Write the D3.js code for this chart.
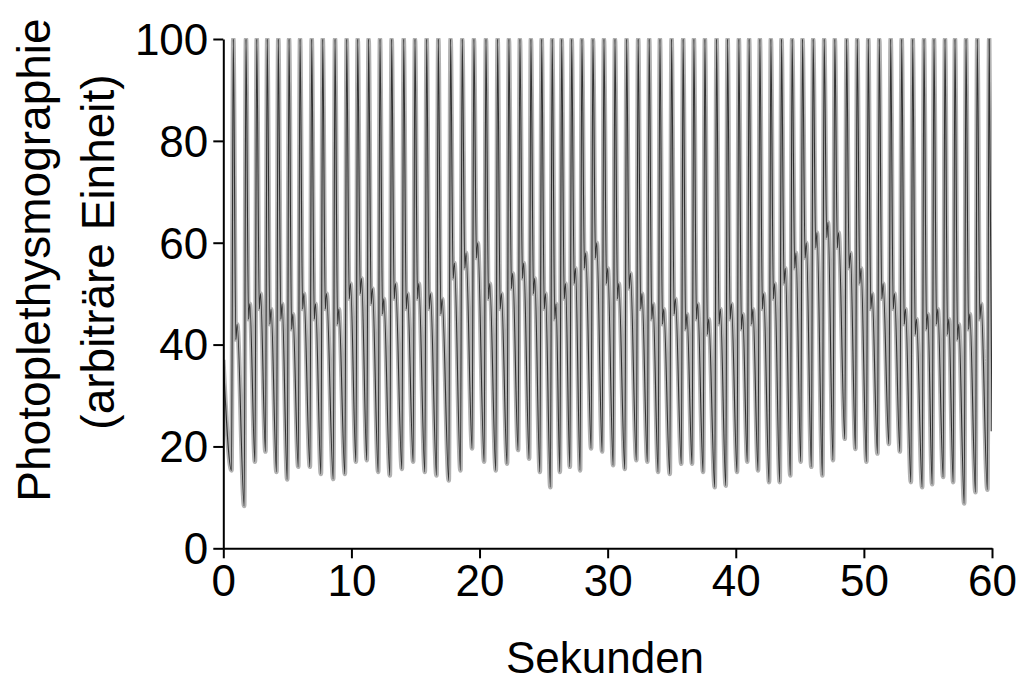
<!DOCTYPE html>
<html>
<head>
<meta charset="utf-8">
<script src="https://cdn.jsdelivr.net/npm/d3@7"></script>
<style>
  html, body { margin: 0; padding: 0; background: #fff; }
  svg { display: block; }
  text { font-family: "Liberation Sans", Arial, sans-serif; fill: #000; }
</style>
</head>
<body>
<svg id="chart" width="1026" height="686"></svg>
<script>
// Pulse peak times (s) of each heartbeat
const peakTimes = [
  0.78, 1.77, 2.61, 3.43, 4.29, 5.13, 5.99, 6.90, 7.76, 8.72,
  9.63, 10.49, 11.34, 12.23, 13.14, 14.08, 14.96, 15.87, 16.78, 17.74,
  18.65, 19.56, 20.50, 21.41, 22.29, 23.15, 24.01, 24.85, 25.67, 26.41,
  27.19, 27.99, 28.85, 29.71, 30.57, 31.48, 32.38, 33.24, 34.08, 34.99,
  35.89, 36.73, 37.59, 38.50, 39.36, 40.24, 41.04, 41.88, 42.74, 43.57,
  44.40, 45.21, 46.04, 46.90, 47.73, 48.65, 49.48, 50.34, 51.20, 52.09,
  52.95, 53.81, 54.69, 55.47, 56.33, 57.11, 57.97, 58.85, 59.78
];
// Foot (trough) value right before each pulse
const footValues = [
  15.3, 8.3, 17.0, 19.0, 15.0, 13.5, 16.0, 16.0, 14.6, 13.6,
  14.6, 17.0, 17.3, 15.0, 14.3, 15.6, 17.0, 15.0, 14.3, 13.3,
  15.3, 19.6, 17.0, 15.3, 16.6, 19.3, 17.6, 15.0, 12.0, 15.0,
  16.0, 15.3, 19.6, 19.0, 16.3, 15.6, 17.3, 17.0, 15.0, 14.6,
  16.6, 16.6, 15.0, 12.0, 12.3, 15.0, 17.0, 15.3, 13.0, 13.0,
  14.3, 17.0, 16.0, 14.3, 17.3, 21.5, 19.5, 17.0, 18.6, 20.5,
  19.0, 13.0, 12.0, 12.6, 14.0, 13.0, 8.8, 11.0, 11.5
];
// Dicrotic (secondary) wave height after each pulse
const dicroticValues = [
  44, 48, 50, 47, 48, 46, 50, 48, 50, 47,
  52, 53, 51, 49, 52, 50, 52, 50, 49, 56,
  58, 60, 52, 50, 54, 56, 53, 50, 48, 52,
  55, 58, 60, 55, 52, 54, 50, 48, 47, 49,
  46, 48, 45, 47, 48, 46, 47, 50, 52, 55,
  58, 60, 62, 64, 62, 58, 55, 50, 52, 50,
  47, 45, 46, 47, 45, 44, 46, 48, 45
];
const peakValue = 100;         // systolic peaks saturate the recording range
const startValue = 37;         // signal level at t = 0
const endValue = 23;           // signal level at t = 60

const xTicks = [0, 10, 20, 30, 40, 50, 60];
const yTicks = [0, 20, 40, 60, 80, 100];

const svg = d3.select("#chart");
const W = 1026, H = 686;
const margin = { left: 223.3, right: W - 992, top: 39, bottom: H - 548.3 };

const x = d3.scaleLinear().domain([0, 60]).range([margin.left, W - margin.right]);
const y = d3.scaleLinear().domain([0, 100]).range([H - margin.bottom, margin.top]);

// Pulse waveform: foot -> systolic peak -> notch -> dicrotic wave -> decay
const signal = [{ t: 0, v: startValue }];
peakTimes.forEach((tp, i) => {
  const d = dicroticValues[i];
  signal.push({ t: tp - 0.14, v: footValues[i] });
  signal.push({ t: tp, v: peakValue });
  if (i < peakTimes.length - 1) {
    signal.push({ t: tp + 0.2, v: d - 3 });
    signal.push({ t: tp + 0.3, v: d });
  }
});
signal.push({ t: 60, v: endValue });

svg.append("clipPath").attr("id", "plotClip")
  .append("rect")
  .attr("x", x(0)).attr("y", y(100) - 1)
  .attr("width", x(60) - x(0)).attr("height", y(0) - y(100) + 1);

const line = d3.line()
  .x(d => x(d.t))
  .y(d => y(d.v))
  .curve(d3.curveMonotoneX);

const plot = svg.append("g").attr("clip-path", "url(#plotClip)");
plot.append("path")
  .datum(signal)
  .attr("fill", "none")
  .attr("stroke", "#b2b2b2")
  .attr("stroke-width", 4.6)
  .attr("stroke-linejoin", "round")
  .attr("d", line);
plot.append("path")
  .datum(signal)
  .attr("fill", "none")
  .attr("stroke", "#000")
  .attr("stroke-opacity", 0.72)
  .attr("stroke-width", 1.1)
  .attr("stroke-linejoin", "round")
  .attr("d", line);

// Axes
const xAxis = d3.axisBottom(x).tickValues(xTicks).tickSize(10).tickPadding(6).tickSizeOuter(0);
const yAxis = d3.axisLeft(y).tickValues(yTicks).tickSize(10).tickPadding(5).tickSizeOuter(0);

const gx = svg.append("g").attr("transform", `translate(0,${y(0)})`).call(xAxis);
const gy = svg.append("g").attr("transform", `translate(${x(0)},0)`).call(yAxis);

[gx, gy].forEach(g => {
  g.select(".domain").attr("stroke", "#000").attr("stroke-width", 2);
  g.selectAll(".tick line").attr("stroke", "#000").attr("stroke-width", 2);
  g.selectAll(".tick text")
    .attr("font-family", "'Liberation Sans', Arial, sans-serif")
    .attr("font-size", 44)
    .attr("fill", "#000");
});
gy.selectAll(".tick text").attr("dy", "0.35em");

// Axis titles
svg.append("text")
  .attr("x", 605).attr("y", 673)
  .attr("text-anchor", "middle")
  .attr("font-size", 44)
  .text("Sekunden");

svg.append("text")
  .attr("transform", "translate(50,260) rotate(-90)")
  .attr("text-anchor", "middle")
  .attr("font-size", 46)
  .text("Photoplethysmographie");
svg.append("text")
  .attr("transform", "translate(114,252) rotate(-90)")
  .attr("text-anchor", "middle")
  .attr("font-size", 46)
  .text("(arbiträre Einheit)");
</script>
</body>
</html>
